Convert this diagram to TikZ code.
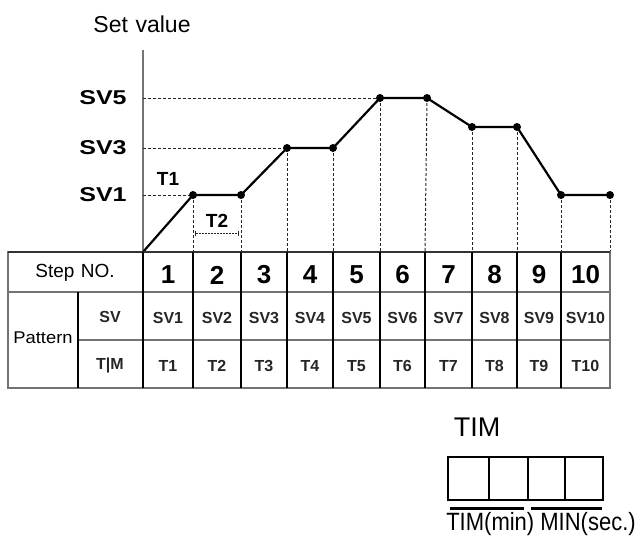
\documentclass[tikz,border=0pt]{standalone}
\usepackage{fontspec}
\usepackage{graphicx}
\setmainfont{Liberation Sans}
\usetikzlibrary{arrows.meta}
\begin{document}
\begin{tikzpicture}[x=1pt,y=-1pt,
  txt/.style={inner sep=0pt, anchor=center},
  svlbl/.style={txt, font=\bfseries\fontsize{20}{24}\selectfont},
  numlbl/.style={txt, font=\bfseries\fontsize{26}{30}\selectfont},
  cell/.style={txt, font=\bfseries\fontsize{16}{19}\selectfont, text=black!85},
  plain/.style={txt, font=\fontsize{17}{20}\selectfont},
  axisline/.style={draw=black!55, line width=1.6pt},
  guide/.style={draw=black!85, line width=1pt, dash pattern=on 3pt off 2pt},
  profile/.style={draw=black, line width=2.2pt, line join=round},
  gridrow/.style={draw=black!55, line width=1.5pt},
  gridcol/.style={draw=black, line width=1.1pt},
  boxline/.style={draw=black, line width=1.8pt},
  underbar/.style={draw=black, line width=3pt}
]
\useasboundingbox (0,0) rectangle (637,539);

% ---------- chart ----------
\coordinate (O) at (143,252);
\coordinate (axtop) at (143,50);
\node[plain, font=\fontsize{23}{27}\selectfont] (setv) at (142,24) {Set\,\,value};
\draw[axisline] (axtop) -- (O);

\coordinate (p1) at (193,195);
\coordinate (p2) at (241,195);
\coordinate (p3) at (287,148);
\coordinate (p4) at (333,148);
\coordinate (p5) at (380,98);
\coordinate (p6) at (427,98);
\coordinate (p7) at (472,127);
\coordinate (p8) at (517,127);
\coordinate (p9) at (561,195);
\coordinate (p10) at (610,195);

\coordinate (y5) at (143,98);
\coordinate (y3) at (143,148);
\coordinate (y1) at (143,195);

\node[svlbl] (sv5) at (103,98) {\scalebox{1.25}[1]{SV5}};
\node[svlbl] (sv3) at (103,148) {\scalebox{1.25}[1]{SV3}};
\node[svlbl] (sv1) at (103,195) {\scalebox{1.25}[1]{SV1}};

\draw[guide] (y5) -- (p5);
\draw[guide] (y3) -- (p3);
\draw[guide] (y1) -- (p1);

\foreach \i/\x in {1/193,2/241,3/287,4/333,5/380,6/425,7/472,8/517,9/561,10/610}{
  \coordinate (b\i) at (\x,252);
}
\foreach \i in {1,...,10}{
  \draw[guide] (p\i) -- (b\i);
}

\draw[profile] (O) -- (p1) -- (p2) -- (p3) -- (p4) -- (p5) -- (p6) -- (p7) -- (p8) -- (p9) -- (p10);
\foreach \i in {1,...,10}{
  \fill (p\i) circle (4pt);
}

\node[svlbl, font=\bfseries\fontsize{19}{22}\selectfont] (t1) at (168,179) {T1};
\node[svlbl, font=\bfseries\fontsize{19}{22}\selectfont] (t2) at (217,221) {T2};
\coordinate (d1) at (195,233);
\coordinate (d2) at (239,233);
\draw[guide, dash pattern=on 2pt off 1pt, {Bar[width=5pt]}-{Bar[width=5pt]}] (d1) -- (d2);

% ---------- table ----------
\draw[gridrow] (8,252) rectangle (610,388);
\draw[draw=black!80, line width=2.4pt] (8,252) -- (610,252);
\draw[gridrow] (8,292) -- (610,292);
\draw[gridrow] (78,340) -- (610,340);
\draw[gridcol] (78,292) -- (78,388);
\foreach \x in {143,193,241,287,333,380,425,472,517,561}{
  \draw[gridcol] (\x,252) -- (\x,388);
}

\node[plain, font=\fontsize{19}{22}\selectfont] (stepno) at (75,273) {Step\,\,NO.};
\node[plain, font=\fontsize{17}{20}\selectfont] (pattern) at (43,338) {\scalebox{1.08}[1]{Pattern}};
\node[cell] (svh) at (110,317) {SV};
\node[cell] (timh) at (110,365) {T|M};

\foreach \i/\c in {1/168,2/217,3/264,4/310,5/356.5,6/402.5,7/448.5,8/494.5,9/539,10/585.5}{
  \node[numlbl] (n\i) at (\c,275) {\i};
  \node[cell] (sv\i cell) at (\c,318) {SV\i};
  \node[cell] (t\i cell) at (\c,366) {T\i};
}

% ---------- TIM box ----------
\node[plain, font=\fontsize{27}{30}\selectfont] (timlbl) at (477,427) {TIM};
\draw[boxline] (448,457) rectangle (603,500);
\draw[boxline] (489,457) -- (489,500);
\draw[boxline] (528,457) -- (528,500);
\draw[boxline] (565,457) -- (565,500);
\coordinate (u1a) at (450,508);
\coordinate (u1b) at (524,508);
\coordinate (u2a) at (531,508);
\coordinate (u2b) at (602,508);
\draw[underbar] (u1a) -- (u1b);
\draw[underbar] (u2a) -- (u2b);
\node[plain, font=\fontsize{25}{29}\selectfont] (timcap) at (541,524) {\scalebox{0.88}[1]{TIM(min) MIN(sec.)}};
\end{tikzpicture}
\end{document}
